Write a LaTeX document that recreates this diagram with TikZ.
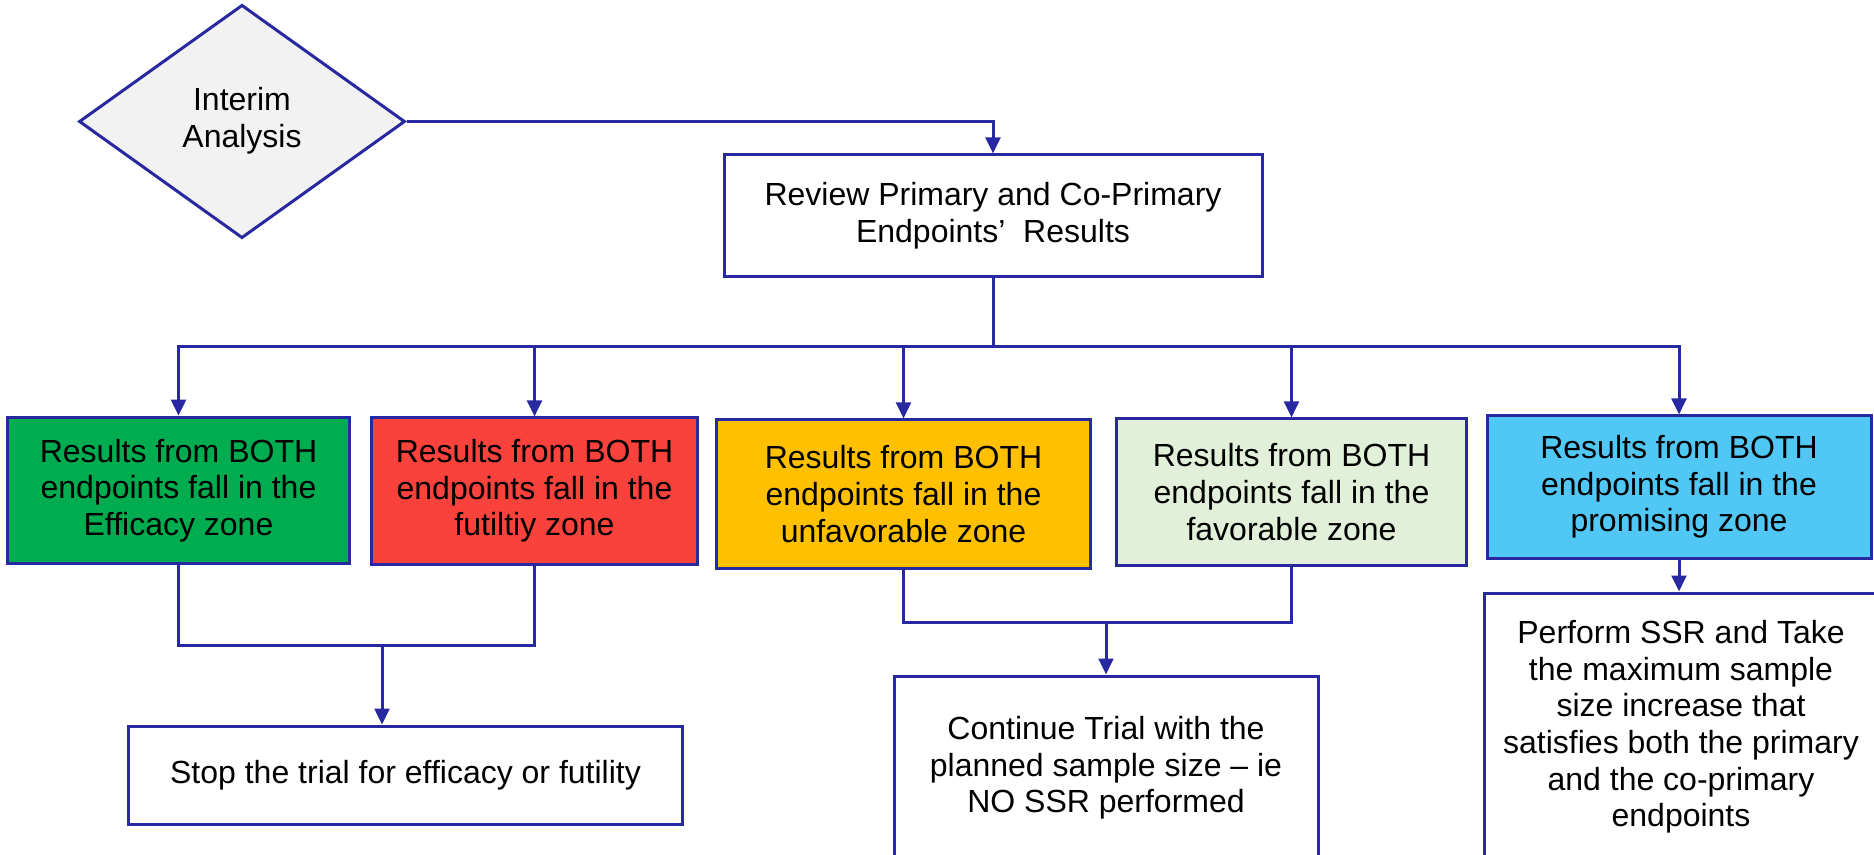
\documentclass[tikz,border=0pt]{standalone}
\usepackage{fontspec}
\setmainfont{Liberation Sans}
\usepackage{xcolor}
\usepackage{tikz}
\usetikzlibrary{arrows.meta,shapes.geometric,calc}

\definecolor{flowblue}{RGB}{40,40,160}
\definecolor{diamondgray}{RGB}{242,242,242}
\definecolor{effgreen}{RGB}{0,172,80}
\definecolor{futred}{RGB}{250,66,60}
\definecolor{unforange}{RGB}{255,192,0}
\definecolor{favgreen}{RGB}{226,240,217}
\definecolor{procyan}{RGB}{80,199,244}

\begin{document}
\begin{tikzpicture}[
  x=0.75pt, y=-0.75pt,
  font=\fontsize{24}{27.5}\selectfont,
  zone/.style={draw=flowblue, line width=2.25pt, align=center, inner sep=4pt},
  decision/.style={diamond, draw=flowblue, fill=diamondgray, line width=2.25pt, align=center, inner sep=0pt, minimum width=244.5pt, minimum height=175pt},
  arrow/.style={-{Triangle[length=12pt,width=11pt]}, draw=flowblue, line width=2.25pt},
  link/.style={draw=flowblue, line width=2.25pt}
]
\useasboundingbox (0,0) rectangle (1874,855);

\node[decision] (interim) at (242,121.5) {\raisebox{-6pt}{\begin{tabular}{@{}c@{}}Interim\\Analysis\end{tabular}}};
\node[zone, minimum width=403.5pt, minimum height=91.5pt] (review) at (993,216) {Review Primary and Co-Primary\\Endpoints’\ \ Results};

\node[zone, fill=effgreen, minimum width=257pt, minimum height=110pt] (eff) at (178.5,490.5) {Results from BOTH\\endpoints fall in the\\Efficacy zone};
\node[zone, fill=futred, minimum width=245pt, minimum height=109.5pt] (fut) at (534.5,491) {Results from BOTH\\endpoints fall in the\\futiltiy zone};
\node[zone, fill=unforange, minimum width=280pt, minimum height=111pt] (unf) at (903.5,494) {Results from BOTH\\endpoints fall in the\\unfavorable zone};
\node[zone, fill=favgreen, minimum width=263pt, minimum height=109.5pt] (fav) at (1291.5,492) {Results from BOTH\\endpoints fall in the\\favorable zone};
\node[zone, fill=procyan, minimum width=288pt, minimum height=106.5pt] (pro) at (1679,487) {Results from BOTH\\endpoints fall in the\\promising zone};

\node[zone, minimum width=416pt, minimum height=74pt] (stop) at (405.5,775.5) {Stop the trial for efficacy or futility};
\node[zone, minimum width=318pt, minimum height=138pt] (cont) at (1106,768) {Continue Trial with the\\planned sample size – ie\\NO SSR performed};
\node[zone, minimum width=295.5pt, minimum height=201pt] (ssr) at (1681,727) {Perform SSR and Take\\the maximum sample\\size increase that\\satisfies both the primary\\and the co-primary\\endpoints};

% interim analysis to review
\draw[arrow] (interim.east) -| (review.north);

% review to the five zones
\coordinate (bus) at (993,347);
\draw[link] (review.south) -- (bus);
\foreach \zn in {eff,fut,unf,fav,pro}
  \draw[arrow] (bus) -| (\zn.north);

% efficacy / futility -> stop
\coordinate (stopjoin) at (382,645);
\draw[link] (eff.south) -- (eff.south |- stopjoin) -- (fut.south |- stopjoin) -- (fut.south);
\draw[arrow] (stopjoin) -- (stopjoin |- stop.north);

% unfavorable / favorable -> continue
\coordinate (contjoin) at (1106,622);
\draw[link] (unf.south) -- (unf.south |- contjoin) -- (fav.south |- contjoin) -- (fav.south);
\draw[arrow] (contjoin) -- (cont.north);

% promising -> SSR
\draw[arrow] (pro.south) -- (pro.south |- ssr.north);
\end{tikzpicture}
\end{document}
